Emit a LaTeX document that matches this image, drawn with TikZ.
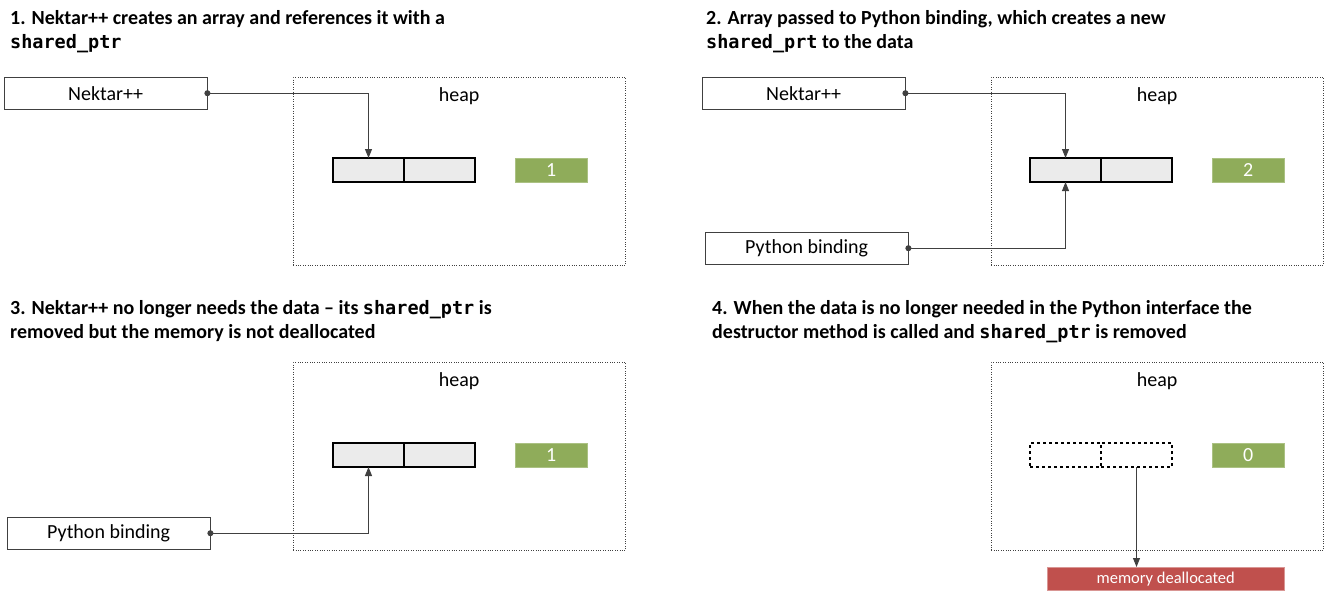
\documentclass[tikz,border=0pt]{standalone}
\usepackage{fontspec}
\setmainfont{Carlito}
\setmonofont{DejaVu Sans Mono}
\usetikzlibrary{arrows.meta, positioning}
\definecolor{cellgray}{HTML}{EBEBEB}
\definecolor{countgreen}{HTML}{8FAC5A}
\definecolor{freedred}{HTML}{C0504D}
\definecolor{linegray}{HTML}{404040}
\newcommand{\code}[1]{{\fontsize{18.5}{24}\selectfont\ttfamily #1}}

\begin{document}
\begin{tikzpicture}[x=1pt, y=-1pt,
    font=\fontsize{20}{24}\selectfont,
    title/.style={anchor=north west, align=left, inner sep=0pt, font=\fontsize{20}{24}\selectfont\bfseries},
    actor/.style={draw=linegray, minimum width=203pt, minimum height=32pt, anchor=north west, inner sep=0pt},
    heapbox/.style={draw=black!75, dotted, minimum width=332pt, minimum height=188pt, anchor=north west, inner sep=0pt},
    cell/.style={draw=black, line width=1.6pt, fill=cellgray, minimum width=71pt, minimum height=24pt, inner sep=0pt, outer sep=0pt},
    gone/.style={cell, dashed, fill=white},
    counter/.style={fill=countgreen, draw=countgreen!75!white, text=white, minimum width=72pt, minimum height=24pt, anchor=north west, inner sep=0pt},
    freed/.style={fill=freedred, draw=freedred!60!white, text=white, font=\fontsize{16.5}{18}\selectfont, minimum width=237pt, minimum height=23pt, anchor=north west, inner sep=0pt},
    conn/.style={draw=linegray, line width=0.9pt, shorten <=-3pt, {Circle[length=6pt]}-{Triangle[length=9pt, width=7pt]}}]

    \useasboundingbox (0,0) rectangle (1324,597);

    % Panel 1: Nektar++ holds the array
    \node[title] (t1) at (10,10) {1. Nektar++ creates an array and references it with a\\\code{shared\_ptr}};
    \node[heapbox] (heap1) at (293,77) {};
    \node[below=7pt of heap1.north] (hl1) {heap};
    \node[cell, anchor=north west] (a1) at (333,158) {};
    \node[cell, right=0pt of a1] (b1) {};
    \node[counter] (c1) at (515,158) {1};
    \node[actor] (nek1) at (4,77) {Nektar++};
    \draw[conn] (nek1.east) -| (a1.north);

    % Panel 2: Python binding adds a second reference
    \node[title] (t2) at (706,10) {2. Array passed to Python binding, which creates a new\\\code{shared\_prt} to the data};
    \node[heapbox] (heap2) at (991,77) {};
    \node[below=7pt of heap2.north] (hl2) {heap};
    \node[cell, anchor=north west] (a2) at (1030,158) {};
    \node[cell, right=0pt of a2] (b2) {};
    \node[counter] (c2) at (1212,158) {2};
    \node[actor] (nek2) at (702,77) {Nektar++};
    \node[actor] (py2) at (705,232) {Python binding};
    \draw[conn] (nek2.east) -| (a2.north);
    \draw[conn] (py2.east) -| (a2.south);

    % Panel 3: only the Python binding is left
    \node[title] (t3) at (10,300) {3. Nektar++ no longer needs the data -- its \code{shared\_ptr} is\\removed but the memory is not deallocated};
    \node[heapbox] (heap3) at (293,362) {};
    \node[below=7pt of heap3.north] (hl3) {heap};
    \node[cell, anchor=north west] (a3) at (333,443) {};
    \node[cell, right=0pt of a3] (b3) {};
    \node[counter] (c3) at (515,443) {1};
    \node[actor] (py3) at (7,517) {Python binding};
    \draw[conn] (py3.east) -| (a3.south);

    % Panel 4: last reference gone, memory freed
    \node[title] (t4) at (712,300) {4. When the data is no longer needed in the Python interface the\\destructor method is called and \code{shared\_ptr} is removed};
    \node[heapbox] (heap4) at (991,362) {};
    \node[below=7pt of heap4.north] (hl4) {heap};
    \node[gone, anchor=north west] (a4) at (1030,443) {};
    \node[gone, right=0pt of a4] (b4) {};
    \node[counter] (c4) at (1212,443) {0};
    \node[freed] (mem) at (1047,567) {memory deallocated};
    \draw[draw=linegray, line width=0.9pt, -{Triangle[length=9pt, width=7pt]}] (b4.south) -- (b4.south |- mem.north);
\end{tikzpicture}
\end{document}
